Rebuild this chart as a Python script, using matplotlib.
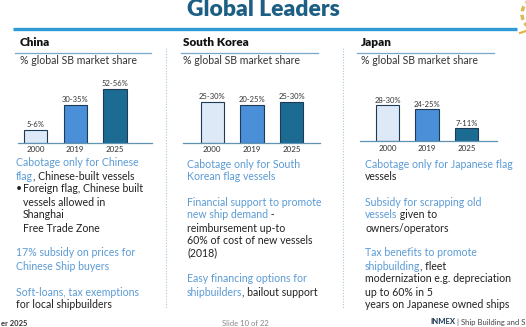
import matplotlib
matplotlib.use("Agg")
import matplotlib.pyplot as plt
from matplotlib.patches import Circle

plt.rcParams["font.family"] = ["Lato", "DejaVu Sans"]

# bar data (the slide draws bars not to scale, heights)
years = ["2000", "2019", "2025"]
china_bars = [13, 38, 54]
korea_bars = [41, 38, 41]
japan_bars = [36, 32, 13]
china_labels = ["5-6%", "30-35%", "52-56%"]
korea_labels = ["25-30%", "20-25%", "25-30%"]
japan_labels = ["28-30%", "24-25%", "7-11%"]

countries = ["China", "South Korea", "Japan"]
subtitle = "% global SB market share"

BLUE = "#5b9bd5"
BLACK = "#222222"
bar_colors = ["#dde9f6", "#4a8fd8", "#1c6b93"]

china_text = [
    (163, 16, [("Cabotage only for Chinese", BLUE)]),
    (176, 16, [("flag", BLUE), (", Chinese-built vessels", BLACK)]),
    (189, 23, [("Foreign flag, Chinese built", BLACK)]),
    (202, 23, [("vessels allowed in", BLACK)]),
    (214, 23, [("Shanghai", BLACK)]),
    (228, 23, [("Free Trade Zone", BLACK)]),
    (253, 16, [("17% subsidy on prices for", BLUE)]),
    (267, 16, [("Chinese Ship buyers", BLUE)]),
    (292, 16, [("Soft-loans, tax exemptions", BLUE)]),
    (305, 16, [("for local shipbuilders", BLACK)]),
]
korea_text = [
    (164, 187, [("Cabotage only for South", BLUE)]),
    (176, 187, [("Korean flag vessels", BLUE)]),
    (202, 187, [("Financial support to promote", BLUE)]),
    (215, 187, [("new ship demand", BLUE), (" -", BLACK)]),
    (228, 187, [("reimbursement up-to", BLACK)]),
    (241, 187, [("60% of cost of new vessels", BLACK)]),
    (253, 187, [("(2018)", BLACK)]),
    (279, 187, [("Easy financing options for", BLUE)]),
    (293, 187, [("shipbuilders", BLUE), (", bailout support", BLACK)]),
]
japan_text = [
    (164, 365, [("Cabotage only for Japanese flag", BLUE)]),
    (176, 365, [("vessels", BLACK)]),
    (202, 365, [("Subsidy for scrapping old", BLUE)]),
    (215, 365, [("vessels", BLUE), (" given to", BLACK)]),
    (228, 365, [("owners/operators", BLACK)]),
    (253, 365, [("Tax benefits to promote", BLUE)]),
    (266, 365, [("shipbuilding", BLUE), (", fleet", BLACK)]),
    (279, 365, [("modernization e.g. depreciation", BLACK)]),
    (292, 365, [("up to 60% in 5", BLACK)]),
    (304, 365, [("years on Japanese owned ships", BLACK)]),
]

W, H = 526, 327
fig = plt.figure(figsize=(W / 100, H / 100), dpi=100)
ax = fig.add_axes([0, 0, 1, 1])
ax.set_xlim(0, W)
ax.set_ylim(H, 0)
ax.axis("off")
renderer = fig.canvas.get_renderer()

BODY = 7.6


def rich_line(x, y, parts, size=BODY):
    for s, c in parts:
        t = ax.text(x, y, s, color=c, fontsize=size, va="center", ha="left")
        x += t.get_window_extent(renderer).width


# title + top rule
ax.text(263, 10, "Global Leaders", fontsize=16.5, fontweight="heavy",
        color="#1d5f84", ha="center", va="center")
ax.plot([13, 517], [29, 29], color="#2e9ad6", lw=2.4, solid_capstyle="butt")

# bit of the gold emblem peeking in at the top right corner
ax.add_patch(Circle((538, 14), 16, fill=False, ec="#d9bb5a", lw=2.5,
                    ls=(0, (1.5, 1))))
ax.plot([520, 526], [33, 31], color="#e0b23a", lw=1.5)

# column headers
head_x = [20, 183, 361]
rule_x = [(15, 151), (181, 318), (357, 494)]
for name, hx, (r0, r1) in zip(countries, head_x, rule_x):
    ax.text(hx, 42, name, fontsize=8.5, fontweight="heavy", color="#111111",
            va="center")
    ax.plot([r0, r1], [53, 53], color="#7aa7c7", lw=0.9)
    ax.text(hx, 60.5, subtitle, fontsize=BODY, color="#333333", va="center")

for dx in [166, 343]:
    ax.plot([dx, dx], [48, 308], color="#a9c6dc", lw=0.8, ls=(0, (1, 1.5)))

# bullet in China block
ax.text(15.5, 189, "\u2022", fontsize=BODY, color=BLACK, va="center")

for block in [china_text, korea_text, japan_text]:
    for y, x, parts in block:
        rich_line(x, y, parts)

# footer (the slide cuts these off at its edges)
ax.text(1, 323, "er 2025", fontsize=5.5, color="#333333", ha="left",
        va="center", fontweight="bold")
ax.text(245, 324, "Slide 10 of 22", fontsize=5.5, color="#888888",
        ha="center", va="center")
t = ax.text(430, 322, "INMEX", fontsize=5.5, fontweight="bold",
            color="#1d3550", va="center")
ax.text(430 + t.get_window_extent(renderer).width, 322,
        " | Ship Building and S", fontsize=5.5, color="#444444",
        va="center")

# bar charts
panels = [
    (china_bars, china_labels, 18, 152, 35.5, 39.75, 142.7),
    (korea_bars, korea_labels, 182.7, 320, 212.3, 39.7, 142.7),
    (japan_bars, japan_labels, 360, 496.7, 387.7, 39.5, 141.3),
]
for vals, labels, x0, x1, c0, step, base in panels:
    bx = fig.add_axes([x0 / W, 1 - base / H, (x1 - x0) / W, 62 / H])
    bx.patch.set_visible(False)
    pos = range(len(vals))
    bars = bx.bar(pos, vals, width=23.5 / step, color=bar_colors,
                  edgecolor="#1d3a56", linewidth=0.8, zorder=2)
    for b, lab in zip(bars, labels):
        bx.annotate(lab, (b.get_x() + b.get_width() / 2, b.get_height()),
                    xytext=(0, 1), textcoords="offset points", ha="center",
                    va="bottom", fontsize=5.5, color="#333333")
    bx.set_xlim(-(c0 - x0) / step, (x1 - c0) / step)
    bx.set_ylim(0, 62)
    for s in ["top", "right", "left"]:
        bx.spines[s].set_visible(False)
    bx.spines["bottom"].set_color("#5f93b3")
    bx.spines["bottom"].set_linewidth(0.9)
    bx.set_yticks([])
    bx.set_xticks(list(pos))
    bx.set_xticklabels(years, fontsize=5.8, color="#333333")
    bx.tick_params(axis="x", length=0, pad=2.5)

fig.savefig("out.png", dpi=100)
